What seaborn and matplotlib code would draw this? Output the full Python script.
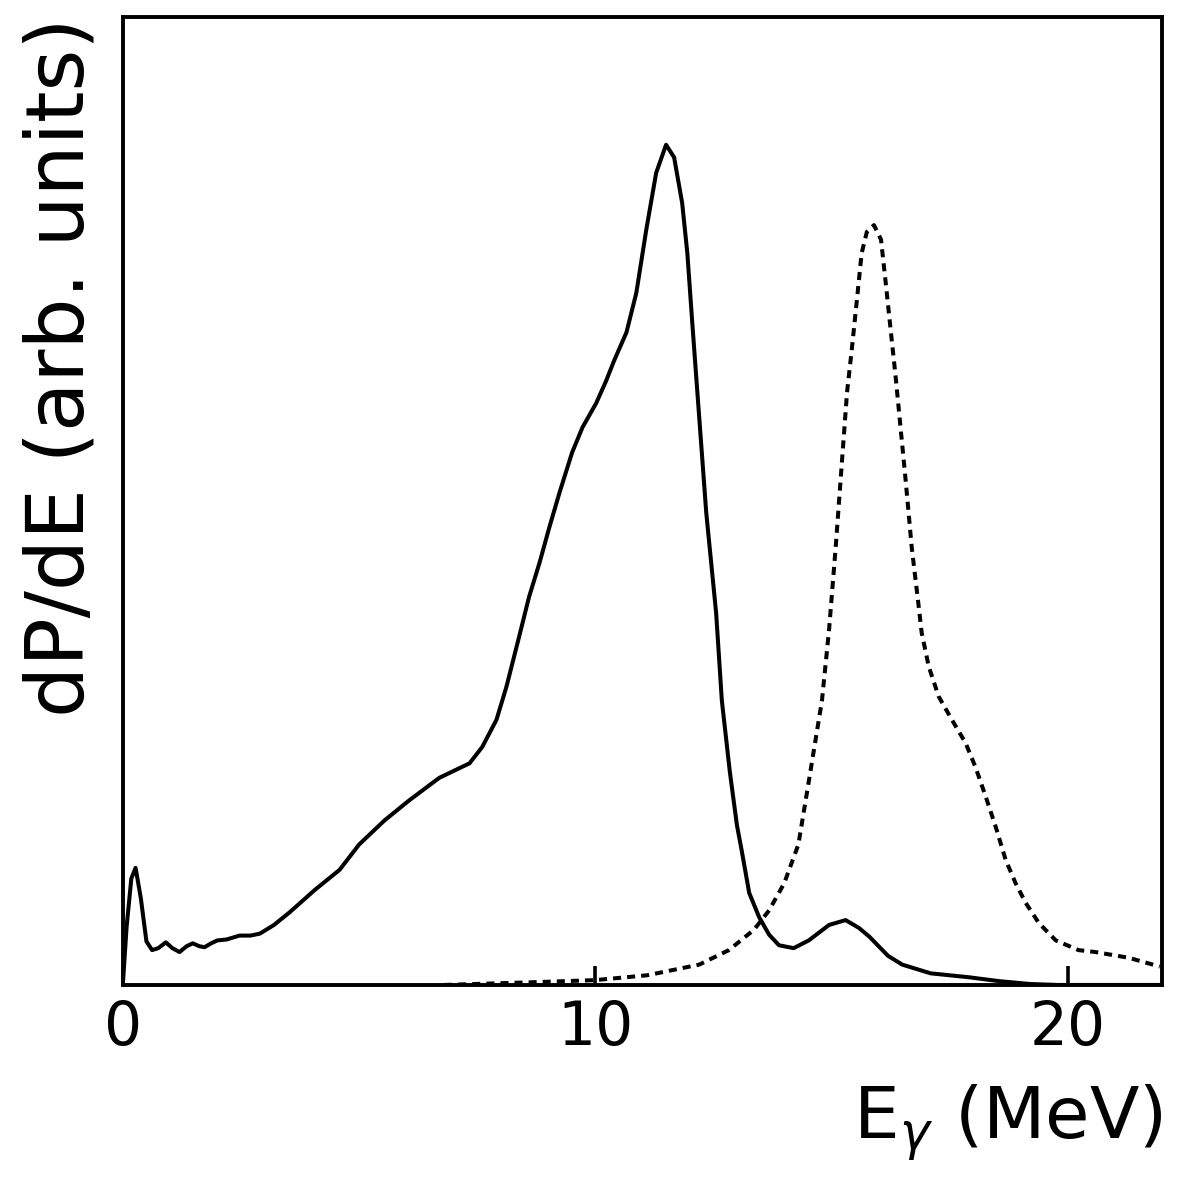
import numpy as np
import pandas as pd
import matplotlib
matplotlib.use("Agg")
import matplotlib.pyplot as plt
import seaborn as sns

# photon spectrum, solid curve (E in MeV, arbitrary units)
e_solid = [0.0, 0.08, 0.18, 0.27, 0.38, 0.50, 0.62, 0.75, 0.91, 1.05, 1.20, 1.35,
           1.48, 1.62, 1.73, 1.87, 2.0, 2.2, 2.47, 2.7, 2.9, 3.2, 3.53, 4.06,
           4.59, 5.0, 5.54, 6.07, 6.70, 7.34, 7.61, 7.91, 8.12, 8.39, 8.60, 8.82,
           9.03, 9.24, 9.51, 9.73, 10.02, 10.23, 10.40, 10.66, 10.87, 11.08,
           11.29, 11.50, 11.67, 11.84, 11.95, 12.05, 12.14, 12.35, 12.56, 12.68,
           12.85, 13.0, 13.1, 13.26, 13.47, 13.68, 13.89, 14.2, 14.52, 14.95,
           15.3, 15.58, 15.8, 16.0, 16.2, 16.5, 17.1, 17.9, 18.54, 19.2, 19.8,
           22.0]
p_solid = [0.0, 0.06, 0.11, 0.121, 0.09, 0.045, 0.036, 0.038, 0.044, 0.038, 0.034,
           0.040, 0.043, 0.040, 0.039, 0.043, 0.046, 0.047, 0.051, 0.051, 0.053,
           0.062, 0.075, 0.098, 0.119, 0.145, 0.170, 0.191, 0.214, 0.229, 0.246,
           0.274, 0.308, 0.360, 0.401, 0.436, 0.473, 0.508, 0.550, 0.576, 0.601,
           0.624, 0.645, 0.674, 0.715, 0.780, 0.839, 0.868, 0.855, 0.808, 0.756,
           0.687, 0.627, 0.488, 0.384, 0.294, 0.220, 0.165, 0.139, 0.095, 0.070,
           0.052, 0.041, 0.038, 0.046, 0.062, 0.067, 0.059, 0.050, 0.040, 0.030,
           0.021, 0.012, 0.008, 0.004, 0.001, 0.0, 0.0]

# dashed curve
e_dash = [6.8, 8.8, 10.0, 11.1, 12.2, 12.83, 13.36, 13.68, 14.0, 14.3, 14.52,
          14.8, 14.95, 15.09, 15.22, 15.33, 15.43, 15.54, 15.64, 15.75, 15.9,
          16.05, 16.15, 16.26, 16.36, 16.57, 16.70, 16.85, 16.91, 17.06, 17.27,
          17.55, 17.84, 18.05, 18.27, 18.48, 18.69, 18.90, 19.11, 19.39, 19.75,
          20.23, 20.59, 21.3, 21.95]
p_dash = [0.0, 0.003, 0.005, 0.010, 0.021, 0.036, 0.057, 0.077, 0.105, 0.145,
          0.210, 0.294, 0.367, 0.452, 0.539, 0.612, 0.656, 0.708, 0.756, 0.778,
          0.785, 0.770, 0.725, 0.674, 0.628, 0.522, 0.452, 0.390, 0.364, 0.329,
          0.298, 0.274, 0.250, 0.225, 0.194, 0.163, 0.129, 0.105, 0.085, 0.064,
          0.046, 0.036, 0.034, 0.028, 0.019]

sns.set_style("white")
plt.rcParams['font.family'] = ['DejaVu Sans']
plt.rcParams['text.color'] = 'black'
plt.rcParams['axes.labelcolor'] = 'black'
plt.rcParams['xtick.color'] = 'black'

fig = plt.figure(figsize=(11.81, 11.81), dpi=100)
ax = fig.add_axes([0.104, 0.166, 0.880, 0.8196])

sns.lineplot(x=e_solid, y=p_solid, ax=ax, color='black', lw=2.9, sort=False)
sns.lineplot(x=e_dash, y=p_dash, ax=ax, color='black', lw=2.9, sort=False,
             linestyle=(0, (2.0, 1.5)))

ax.set_xlim(0, 22)
ax.set_ylim(0, 1)
ax.set_xticks([0, 10, 20])
ax.set_xticklabels(['0', '10', '20'])
ax.set_yticks([])
ax.tick_params(axis='x', bottom=True, direction='in', length=14, width=2.6,
               labelsize=43, pad=10, labelcolor='black')
for sp in ax.spines.values():
    sp.set_linewidth(2.8)
    sp.set_color('black')

ax.set_xlabel(r'E$_\gamma$ (MeV)', fontsize=52, loc='right', labelpad=18)
ax.set_ylabel('dP/dE (arb. units)', fontsize=58, loc='top', labelpad=16)

fig.savefig('out.png', dpi=100)
